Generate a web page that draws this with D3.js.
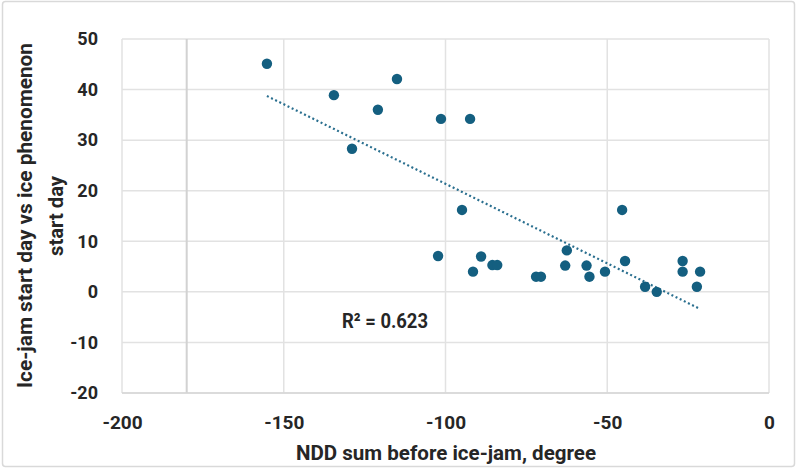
<!DOCTYPE html>
<html><head><meta charset="utf-8">
<script src="https://cdn.jsdelivr.net/npm/d3@7"></script>
<style>
body{margin:0;background:#fff;}
svg text{font-family:Roboto,"Liberation Sans",sans-serif;font-weight:bold;fill:#262626;}
</style></head><body>
<svg id="c" width="798" height="470"></svg>
<script>
const xValues = [-155.2,-134.5,-128.9,-120.9,-115,-101.4,-92.4,-94.9,-102.3,-91.5,-89,-85.5,-84,-72,-70.5,-62.5,-63,-56.4,-55.5,-50.7,-44.5,-45.4,-38.3,-34.7,-26.7,-26.7,-22.3,-21.3];
const yValues = [45.1,38.9,28.3,36,42.1,34.2,34.2,16.2,7.1,4,7,5.3,5.3,3,3,8.2,5.2,5.2,3,4,6.1,16.2,1,0,6.1,4,1,4];
const xTicks = [-200,-150,-100,-50,0];
const yTicks = [-20,-10,0,10,20,30,40,50];
const xTitle = "NDD sum before ice-jam, degree";
const yTitle = ["Ice-jam start day vs ice phenomenon","start day"];
const r2Label = "R\u00B2 = 0.623";
const yAxisCross = -180;

const svg = d3.select("#c");
svg.append("rect").attr("x",2.5).attr("y",1.5).attr("width",792).attr("height",465)
  .attr("rx",3).attr("fill","#fff").attr("stroke","#d9d9d9").attr("stroke-width",1.5);

const L=122,R=769,T=39,B=393;
const x = d3.scaleLinear().domain([-200,0]).range([L,R]);
const y = d3.scaleLinear().domain([-20,50]).range([B,T]);

const g = svg.append("g");
g.selectAll(".hg").data(yTicks).join("line")
  .attr("x1",L).attr("x2",R).attr("y1",d=>y(d)).attr("y2",d=>y(d))
  .attr("stroke","#e2e2e2").attr("stroke-width",1.5);
g.selectAll(".vg").data(xTicks).join("line")
  .attr("y1",T).attr("y2",B).attr("x1",d=>x(d)).attr("x2",d=>x(d))
  .attr("stroke","#e2e2e2").attr("stroke-width",1.5);
g.append("line").attr("x1",x(yAxisCross)).attr("x2",x(yAxisCross)).attr("y1",T).attr("y2",B)
  .attr("stroke","#d2d2d2").attr("stroke-width",2);
g.append("line").attr("x1",L).attr("x2",R).attr("y1",B).attr("y2",B)
  .attr("stroke","#d6d6d6").attr("stroke-width",1.5);

const fmt = d => String(d);
const xa = svg.append("g").attr("transform",`translate(0,${B+22})`)
  .call(d3.axisBottom(x).tickValues(xTicks).tickSize(0).tickPadding(0).tickFormat(fmt));
xa.select(".domain").remove();
xa.selectAll("text").attr("font-size",19).attr("dy","0.71em");

const ya = svg.append("g").attr("transform",`translate(98,0)`)
  .call(d3.axisLeft(y).tickValues(yTicks).tickSize(0).tickPadding(0).tickFormat(fmt));
ya.select(".domain").remove();
ya.selectAll("text").attr("font-size",18);
svg.selectAll(".tick text").attr("font-family",null).style("font-family",'Roboto,sans-serif').style("font-weight","bold").attr("fill","#262626");

// trendline via least squares
const n = xValues.length;
const mx = d3.mean(xValues), my = d3.mean(yValues);
let sxy=0,sxx=0;
for(let i=0;i<n;i++){sxy+=(xValues[i]-mx)*(yValues[i]-my);sxx+=(xValues[i]-mx)**2;}
const slope=sxy/sxx, icpt=my-slope*mx;
const xmin=d3.min(xValues), xmax=d3.max(xValues);
svg.append("line").attr("x1",x(xmin)).attr("y1",y(icpt+slope*xmin))
  .attr("x2",x(xmax)).attr("y2",y(icpt+slope*xmax))
  .attr("stroke","#2a6f8f").attr("stroke-width",2.2).attr("stroke-dasharray","2 2.6");

svg.selectAll(".pt").data(xValues.map((v,i)=>[v,yValues[i]])).join("circle")
  .attr("cx",d=>x(d[0])).attr("cy",d=>y(d[1])).attr("r",5.2)
  .attr("fill","#145f80");

svg.append("text").attr("x",342).attr("y",328).attr("font-size",21)
  .attr("textLength",86).attr("lengthAdjust","spacingAndGlyphs").text(r2Label);

svg.append("text").attr("x",446).attr("y",460).attr("text-anchor","middle").attr("font-size",21)
  .attr("textLength",300).attr("lengthAdjust","spacingAndGlyphs").text(xTitle);
const yt = svg.append("g").attr("transform","translate(0,216) rotate(-90)");
yt.append("text").attr("x",-172).attr("y",32).attr("font-size",21)
  .attr("textLength",345).attr("lengthAdjust","spacingAndGlyphs").text(yTitle[0]);
yt.append("text").attr("x",-40).attr("y",63).attr("font-size",21)
  .attr("textLength",80).attr("lengthAdjust","spacingAndGlyphs").text(yTitle[1]);
</script></body></html>
